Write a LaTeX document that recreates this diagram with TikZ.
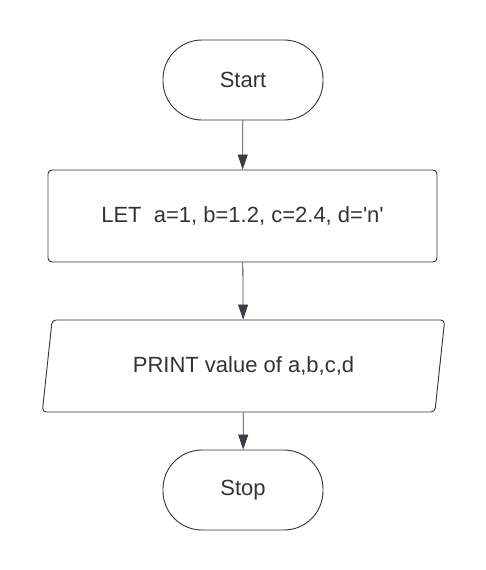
\documentclass[tikz,border=0pt]{standalone}
\usepackage{fontspec}
\setmainfont{Liberation Sans}
\usetikzlibrary{arrows.meta, shapes.geometric}
\definecolor{inkgray}{HTML}{333333}
\definecolor{linegray}{HTML}{3A3D45}

\begin{document}
\begin{tikzpicture}[x=1pt, y=-1pt,
  font=\fontsize{22}{26}\selectfont, text=inkgray,
  term/.style={draw=inkgray, line width=0.9pt, rectangle,
    rounded corners=39pt, minimum width=160pt, minimum height=80pt},
  proc/.style={draw=inkgray, line width=0.9pt, rectangle,
    rounded corners=4pt, minimum width=389pt, minimum height=92pt},
  io/.style={draw=inkgray, line width=0.9pt, trapezium,
    trapezium left angle=77, trapezium right angle=103,
    trapezium stretches=true, rounded corners=4pt,
    minimum width=403pt, minimum height=92pt},
  flow/.style={-{Triangle[length=15pt, width=10pt]}, draw=linegray,
    line width=0.8pt}]

  \useasboundingbox (0,0) rectangle (486,570);

  % blocks
  \node[term] (start) at (243,80) {Start};
  \node[proc] (let) at (242.5,216)
    {LET\ \ a=1, b=1.2, c=2.4, d=\textquotesingle n\textquotesingle};
  \node[io] (print) at (243.5,366) {PRINT value of a,b,c,d};
  \node[term] (stop) at (243,490) {Stop};

  % arrows
  \draw[flow] (start) -- (let);
  \draw[flow] (let) -- (print);
  \draw[flow] (print) -- (stop);
\end{tikzpicture}
\end{document}
